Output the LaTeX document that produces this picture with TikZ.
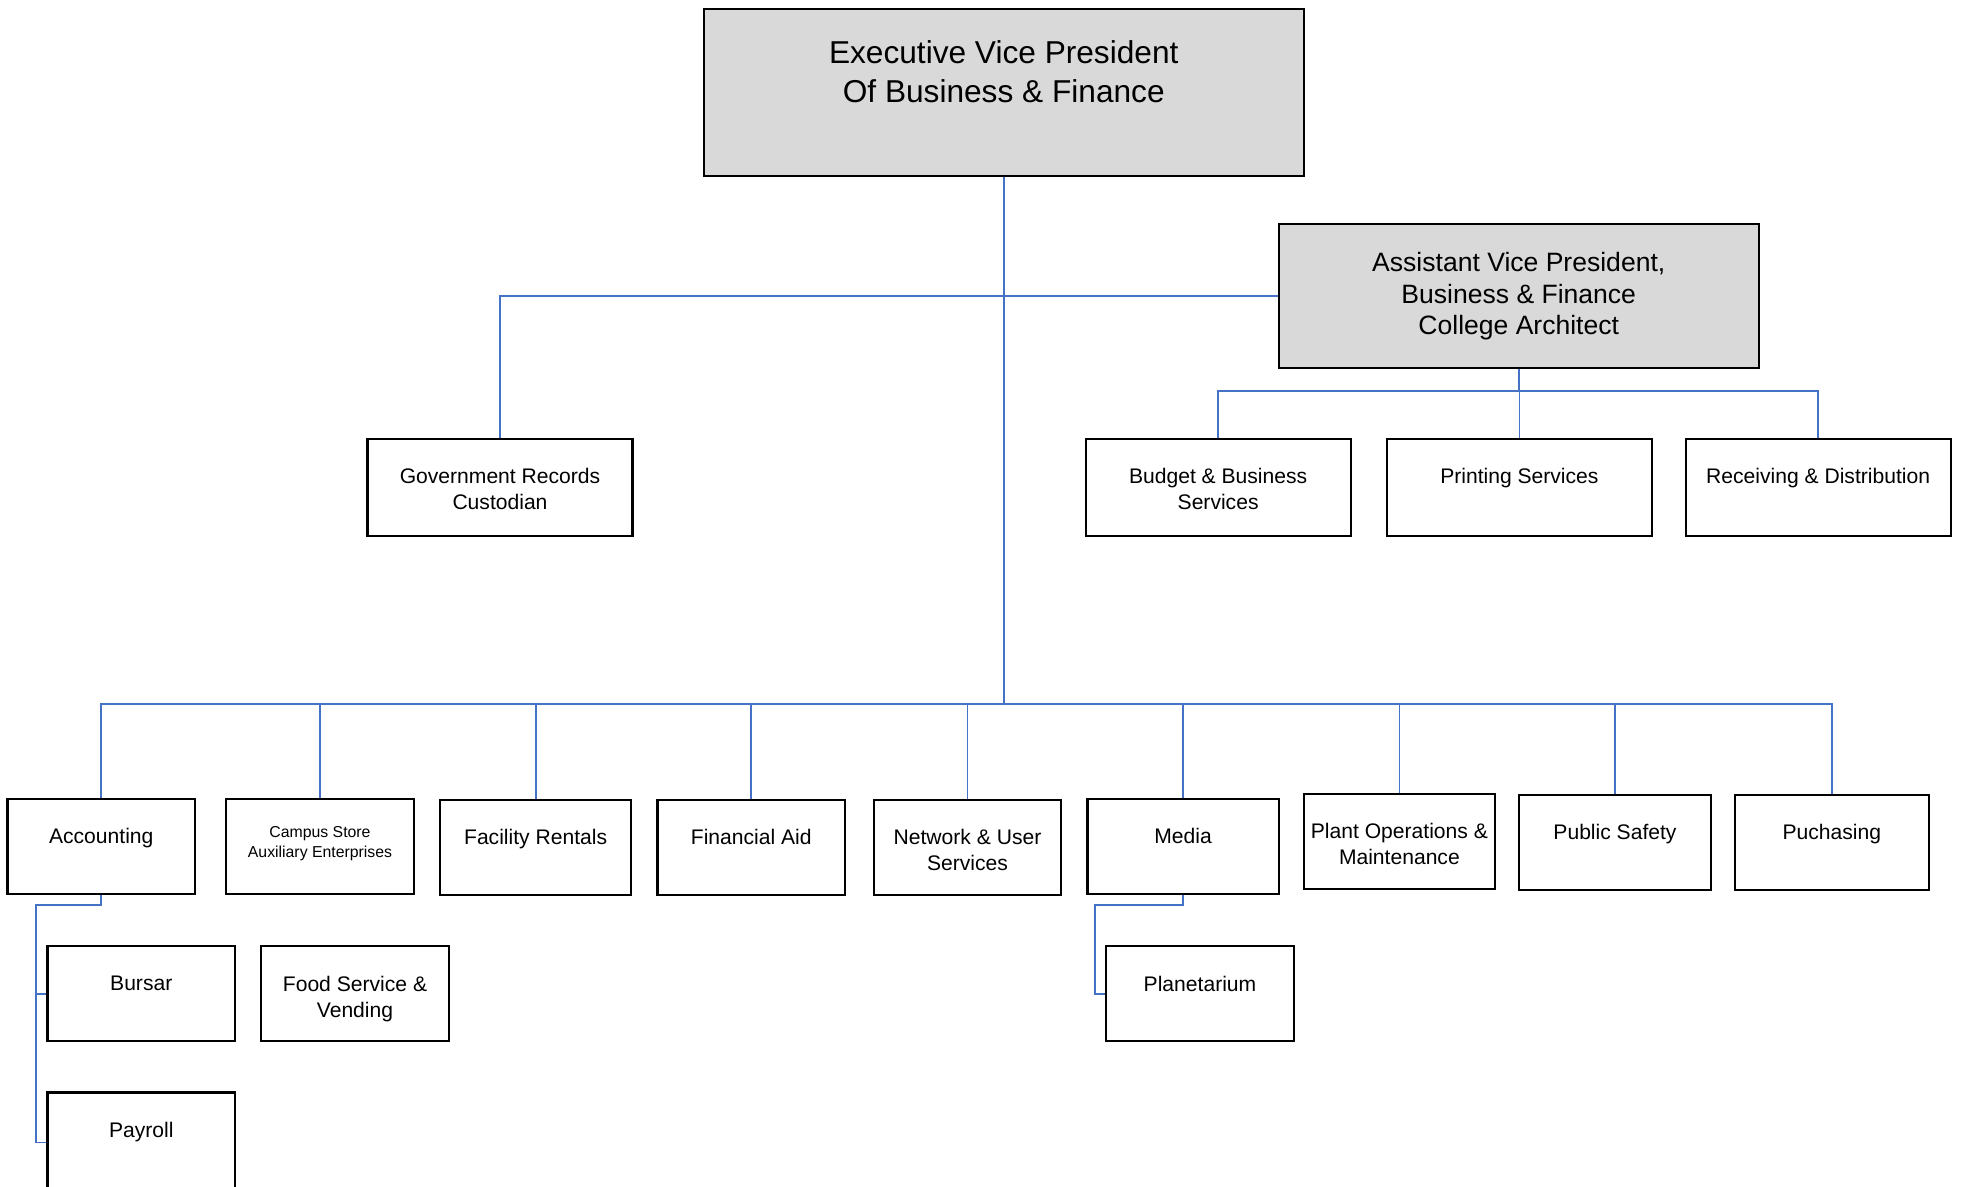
\documentclass[tikz,border=0pt]{standalone}
\usepackage{fontspec}
\setmainfont{Liberation Sans}
\definecolor{headgray}{HTML}{D9D9D9}
\definecolor{linkblue}{HTML}{4472C4}
\tikzstyle{unit} = [rectangle, draw=black, line width=0.6pt, fill=white, minimum width=1.875cm, minimum height=0.95cm, inner sep=0pt]
\tikzstyle{head} = [unit, fill=headgray]
\tikzstyle{caption} = [anchor=north, inner sep=0pt, align=center, font=\fontsize{6}{7.4}\selectfont, yshift=-0.3cm]
\tikzstyle{bigcaption} = [anchor=north, inner sep=0pt, align=center, font=\fontsize{9}{11}\selectfont, yshift=-0.325cm]
\tikzstyle{link} = [draw=linkblue, line width=0.5pt]

\begin{document}
\begin{tikzpicture}[x=0.0125cm, y=-0.0125cm]
\useasboundingbox (0,0) rectangle (1568.8,948.8);

%% NODES

\node (evp) [head, minimum width=6cm, minimum height=1.675cm, label={[bigcaption]north:{Executive Vice President\\Of Business \& Finance}}] at (803,74) {};
\node (avp) [head, minimum width=4.8cm, minimum height=1.4375cm, align=center, font=\fontsize{7.55}{9}\selectfont] at (1215,237) {Assistant Vice President,\\Business \& Finance\\College Architect};

\node (gov) [unit, minimum width=2.65cm, minimum height=0.975cm, label={[caption]north:{Government Records\\Custodian}}] at (400,390) {};
\node (budget) [unit, minimum width=2.65cm, minimum height=0.975cm, label={[caption]north:{Budget \& Business\\Services}}] at (974.5,390) {};
\node (printing) [unit, minimum width=2.65cm, minimum height=0.975cm, label={[caption]north:Printing Services}] at (1215.5,390) {};
\node (receiving) [unit, minimum width=2.65cm, minimum height=0.975cm, label={[caption]north:{Receiving \& Distribution}}] at (1454.5,390) {};

\node (acct) [unit, label={[caption]north:Accounting}] at (81,677) {};
\node (campus) [unit, label={[caption, font=\fontsize{4.5}{5.7}\selectfont, yshift=0.02cm]north:{Campus Store\\Auxiliary Enterprises}}] at (256,677) {};
\node (facility) [unit, minimum width=1.9125cm, label={[caption]north:Facility Rentals}] at (428.5,678) {};
\node (finaid) [unit, label={[caption]north:Financial Aid}] at (601,678) {};
\node (network) [unit, label={[caption]north:{Network \& User\\Services}}] at (774,678) {};
\node (media) [unit, minimum width=1.9125cm, label={[caption]north:Media}] at (946.5,677) {};
\node (plant) [unit, minimum width=1.9125cm, label={[caption]north:{Plant Operations \&\\Maintenance}}] at (1119.5,673) {};
\node (safety) [unit, minimum width=1.925cm, label={[caption]north:Public Safety}] at (1292,674) {};
\node (purchasing) [unit, minimum width=1.9375cm, label={[caption]north:Puchasing}] at (1465.5,674) {};

\node (bursar) [unit, label={[caption]north:Bursar}] at (113,795) {};
\node (food) [unit, label={[caption]north:{Food Service \&\\Vending}}] at (284,795) {};
\node (planet) [unit, label={[caption]north:Planetarium}] at (960,795) {};
\node (payroll) [unit, minimum height=1cm, label={[caption]north:Payroll}] at (113,914) {};

\coordinate (bus) at (803,563);
\coordinate (avpbus) at (1215,313);
\coordinate (acctbend) at (29,724);
\coordinate (mediabend) at (876,724);

%% ARROWS

\draw [link] (evp) -- (bus);
\foreach \n in {acct,campus,facility,finaid,network,media,plant,safety,purchasing}
  \draw [link] (bus) -| (\n.north);
\draw [link] (avp.west) -| (gov.north);
\draw [link] (avp) -- (avpbus);
\foreach \n in {budget,printing,receiving}
  \draw [link] (avpbus) -| (\n.north);
\draw [link] (acct.south) |- (acctbend) |- (bursar.west);
\draw [link] (acctbend) |- (payroll.west);
\draw [link] (media.south) |- (mediabend) |- (planet.west);

\end{tikzpicture}
\end{document}
